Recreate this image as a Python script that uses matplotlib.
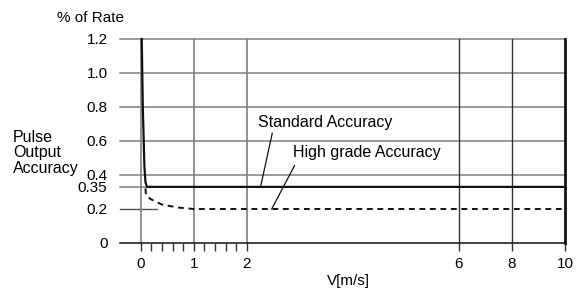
import numpy as np
import matplotlib
matplotlib.use("Agg")
import matplotlib.pyplot as plt

plt.rcParams['font.family'] = ['Liberation Sans', 'DejaVu Sans']
plt.rcParams['font.size'] = 11

# ---- data ----
std_x = [0.02, 0.04, 0.07, 0.09, 0.12, 10]
std_y = [1.2, 0.8, 0.45, 0.37, 0.35, 0.35]
high_x = [0.09, 0.1, 0.2, 0.4, 0.7, 1.0, 10]
high_y = [0.34, 0.29, 0.265, 0.23, 0.21, 0.2, 0.2]
x_major = [0, 1, 2, 6, 8, 10]
x_minor = [0.2, 0.4, 0.6, 0.8, 1.2, 1.4, 1.6, 1.8]
y_ticks = [0, 0.2, 0.35, 0.4, 0.6, 0.8, 1.0, 1.2]
y_labels = ['0', '0.2', '0.35', '0.4', '0.6', '0.8', '1.0', '1.2']
y_grid = [0.35, 0.4, 0.6, 0.8, 1.0, 1.2]
x_grid_light = [0, 1, 2]
x_grid_dark = [6, 8]
labels = ['Standard Accuracy', 'High grade Accuracy']

# piecewise scales
def xf(x):
    x = np.asarray(x, dtype=float)
    return np.where(x <= 6, x, 6 + (x - 6) / 2)

def xi(x):
    x = np.asarray(x, dtype=float)
    return np.where(x <= 6, x, 6 + (x - 6) * 2)

YD = np.array([0, 0.2, 0.35, 0.4, 1.2])
YS = np.array([0, 0.2, 0.33, 0.4, 1.2])

def _pw(v, a, b):
    v = np.asarray(v, dtype=float)
    out = np.interp(v, a, b)
    out = np.where(v < a[0], b[0] + (v - a[0]), out)
    out = np.where(v > a[-1], b[-1] + (v - a[-1]), out)
    return out

def yf(v):
    return _pw(v, YD, YS)

def yi(v):
    return _pw(v, YS, YD)

fig = plt.figure(figsize=(5.76, 2.88), dpi=100)
ax = fig.add_axes([120/576, 45/288, 445/576, 204/288])
ax.set_xscale('function', functions=(xf, xi))
ax.set_yscale('function', functions=(yf, yi))
ax.set_xlim(-0.39, 10)
ax.set_ylim(0, 1.2)
for s in ax.spines.values():
    s.set_visible(False)

grey = '#7f7f7f'
for yv in y_grid:
    ax.axhline(yv, color=grey, lw=1.1, clip_on=False, zorder=1)
ax.plot([-0.39, 0.3], [0.2, 0.2], color='#555555', lw=1.0, clip_on=False, zorder=1)
ax.axhline(0, color='#222222', lw=1.2, clip_on=False, zorder=2)
for xv in x_grid_light:
    ax.axvline(xv, color=grey, lw=1.2, clip_on=False, zorder=1)
for xv in x_grid_dark:
    ax.axvline(xv, color='#333333', lw=1.0, clip_on=False, zorder=1)
ax.axvline(10, color='#111111', lw=2.0, clip_on=False, zorder=3)

ax.plot(std_x, std_y, color='#111111', lw=1.6, clip_on=False, zorder=4,
        solid_joinstyle='round')
ax.plot(high_x, high_y, color='#111111', lw=1.4, dashes=(3, 2.4), clip_on=False, zorder=4)

ax.set_xticks(x_major)
ax.set_xticklabels([str(v) for v in x_major])
ax.set_xticks(x_minor, minor=True)
ax.tick_params(axis='x', which='both', direction='out', length=6, width=1.0,
               color='#333333', pad=4, labelsize=11)
ax.set_yticks(y_ticks)
ax.set_yticklabels(y_labels)
ax.yaxis.set_minor_locator(matplotlib.ticker.NullLocator())
ax.tick_params(axis='y', length=0, pad=9, labelsize=11)

# annotations
ax.text(2.21, 0.706, labels[0], ha='left', va='center', fontsize=11.5)
ax.plot([2.48, 2.26], [0.645, 0.35], color='#111111', lw=0.9)
ax.text(2.87, 0.53, labels[1], ha='left', va='center', fontsize=11.5)
ax.plot([2.90, 2.47], [0.455, 0.2], color='#111111', lw=0.9)

fig.text(57/576, 1 - 18/288, '% of Rate', ha='left', va='center', fontsize=11)
fig.text(13/576, 1 - 153/288, 'Pulse\nOutput\nAccuracy', ha='left', va='center',
         fontsize=11.5, linespacing=1.05)
fig.text(348/576, 1 - 281/288, 'V[m/s]', ha='center', va='center', fontsize=11)

fig.savefig('out.png', dpi=100)
